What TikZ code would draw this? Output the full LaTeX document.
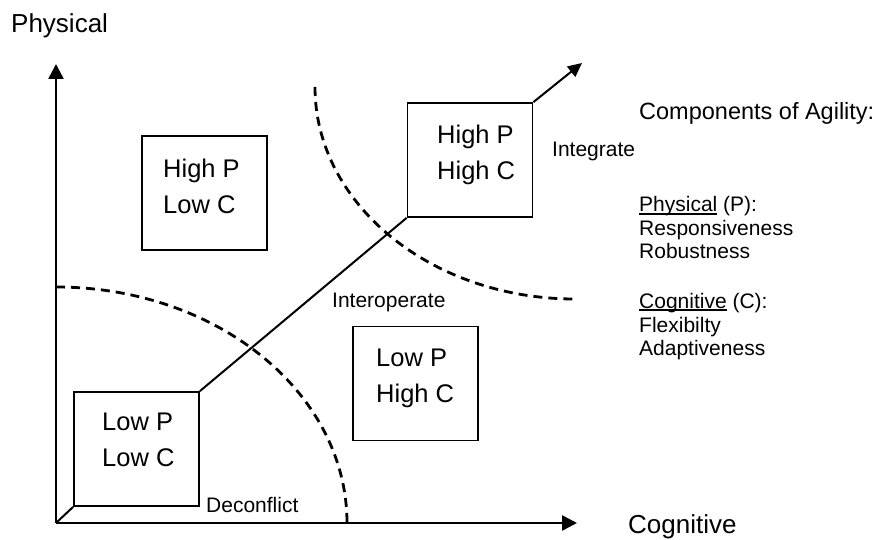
\documentclass[tikz,border=0pt]{standalone}
\usepackage{fontspec}
\setmainfont{Liberation Sans}
\usetikzlibrary{arrows.meta}
\newcommand\myul[1]{\setbox0\hbox{#1}\rlap{\rule[-2.6pt]{\wd0}{1.2pt}}#1}
\tikzset{
  quad/.style={draw, line width=1.8pt, minimum width=125pt, minimum height=114pt, inner sep=0pt},
  quadtext/.style={anchor=north west, align=left, inner sep=0pt, font=\fontsize{25.5}{36}\selectfont},
  small/.style={anchor=base west, inner sep=0pt, font=\fontsize{21}{23}\selectfont},
  big/.style={anchor=base west, inner sep=0pt, font=\fontsize{26}{30}\selectfont},
  axis/.style={line width=2.6pt, -{Triangle[length=15pt,width=15pt]}},
  bound/.style={line width=2.8pt, dash pattern=on 9pt off 6pt},
  link/.style={line width=2pt}
}
\begin{document}
\begin{tikzpicture}[x=1pt,y=1pt]
\useasboundingbox (0,0) rectangle (877,539);
% axes
\coordinate (O) at (56,16);
\coordinate (ytip) at (56,475);
\coordinate (xtip) at (577,16);
\draw[axis] (O) -- (ytip);
\draw[axis] (O) -- (xtip);
% boundaries
\draw[bound] (56,252) arc[start angle=90, end angle=0, x radius=291pt, y radius=236pt];
\draw[bound] (315,452) arc[start angle=180, end angle=270, x radius=260pt, y radius=212pt];
% boxes
\node[quad] (lplc) at (136.5,90) {};
\node[quad] (hhc) at (470,379) {};
\node[quad] (hplc) at (204.5,346) {};
\node[quad] (lphc) at (415.5,155.5) {};
\node[quadtext] (lplcT) at (102,126.5) {Low P\\Low C};
\node[quadtext] (hhcT) at (437,414.5) {High P\\High C};
\node[quadtext] (hplcT) at (163,380.5) {High P\\Low C};
\node[quadtext] (lphcT) at (376,190.5) {Low P\\High C};
% connectors
\draw[link] (O) -- (lplc.south west);
\draw[link] (lplc.north east) -- (hhc.south west);
\coordinate (dtip) at (582,476);
\draw[link, -{Triangle[length=14pt,width=13pt]}] (hhc.north east) -- (dtip);
% labels
\node[big] (phys) at (11,506) {Physical};
\node[big] (cogn) at (628,5.8) {Cognitive};
\node[small] (deconf) at (206,27) {Deconflict};
\node[small] (interop) at (332,232) {Interoperate};
\node[small] (integ) at (552,382) {Integrate};
\node[anchor=base west, inner sep=0pt, font=\fontsize{23.5}{28}\selectfont] (comp) at (639,419) {Components of Agility:};
\node[small] (pP) at (639,327) {\myul{Physical} (P):};
\node[small] (p1) at (639,304) {Responsiveness};
\node[small] (p2) at (639,281) {Robustness};
\node[small] (cC) at (639,231) {\myul{Cognitive} (C):};
\node[small] (c1) at (639,207) {Flexibilty};
\node[small] (c2) at (639,184) {Adaptiveness};
\end{tikzpicture}
\end{document}
